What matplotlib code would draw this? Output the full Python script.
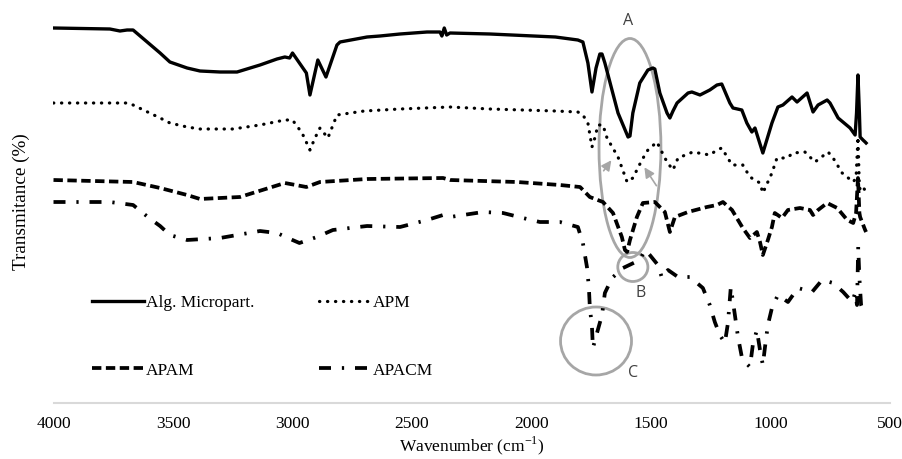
import matplotlib
matplotlib.use("Agg")
import matplotlib.pyplot as plt
from matplotlib.patches import Ellipse

# FTIR spectra, transmittance in arbitrary units (curves are stacked)
alg_wn = [4000, 3764, 3722, 3692, 3667, 3554, 3513, 3441, 3387, 3303, 3232, 3136, 3065,
          3032, 3012, 3000, 2942, 2927, 2894, 2860, 2814, 2801, 2688, 2634, 2550, 2437,
          2383, 2375, 2365, 2355, 2341, 2174, 1900, 1806, 1785, 1764, 1747, 1730, 1714,
          1705, 1693, 1660, 1638, 1596, 1588, 1576, 1547, 1513, 1492, 1484, 1463, 1433,
          1421, 1408, 1391, 1345, 1329, 1295, 1254, 1224, 1204, 1170, 1157, 1120, 1099,
          1078, 1065, 1032, 994, 969, 948, 910, 889, 847, 822, 801, 763, 751, 717, 667,
          646, 640, 634, 628, 625, 613, 604, 600]
alg_t = [375, 374, 372, 373, 373, 350, 341, 335, 332, 331, 331, 338, 344,
         346, 345, 350, 330, 308, 343, 326, 358, 361, 366, 367, 369, 371,
         371, 367, 375, 368, 370, 369, 366, 363, 361, 340, 311, 335, 349,
         349, 340, 310, 290, 266, 267, 290, 320, 333, 335, 334, 310, 290,
         285, 292, 300, 310, 311, 308, 313, 318, 319, 300, 295, 293, 280,
         271, 275, 250, 280, 296, 298, 306, 301, 310, 291, 298, 303, 300, 285, 275,
         268, 290, 328, 290, 266, 263, 261, 260]

apm_wn = [4000, 3692, 3667, 3554, 3513, 3441, 3387, 3249, 3136, 3032, 3000, 2960, 2927,
          2906, 2885, 2852, 2814, 2700, 2550, 2341, 2174, 1900, 1806, 1785, 1764, 1747,
          1735, 1722, 1701, 1684, 1638, 1600, 1576, 1538, 1513, 1475, 1463, 1433, 1408,
          1387, 1325, 1254, 1224, 1204, 1161, 1116, 1086, 1044, 1032, 994, 973, 931, 906,
          856, 814, 759, 738, 700, 654, 642, 634, 628, 620, 613, 600]
apm_t = [300, 300, 298, 285, 280, 276, 274, 274, 278, 283, 283, 270, 253,
         265, 275, 265, 288, 292, 294, 296, 294, 292, 291, 288, 280, 256,
         265, 278, 278, 265, 246, 221, 225, 243, 253, 261, 255, 241, 233,
         245, 251, 248, 253, 255, 238, 238, 226, 220, 210, 230, 245, 245, 250,
         251, 241, 251, 245, 230, 221, 225, 266, 215, 213, 216, 211]

apam_wn = [4000, 3667, 3554, 3441, 3387, 3220, 3032, 2942, 2885, 2688, 2370, 2341, 2061,
           1881, 1797, 1756, 1701, 1659, 1622, 1609, 1600, 1588, 1559, 1534, 1484, 1442,
           1421, 1400, 1345, 1266, 1224, 1199, 1161, 1136, 1116, 1086, 1057, 1044, 1032,
           1011, 994, 982, 952, 927, 877, 835, 822, 801, 763, 721, 679, 654, 642, 634,
           628, 625, 604, 600]
apam_t = [223, 221, 215, 208, 204, 206, 220, 216, 221, 224, 225, 223, 221,
          218, 216, 206, 201, 190, 166, 153, 151, 163, 186, 200, 201, 191,
          171, 186, 191, 196, 198, 201, 193, 183, 175, 165, 171, 161, 148,
          163, 176, 190, 185, 193, 195, 193, 188, 193, 200, 195, 183, 180, 190, 225,
          190, 186, 173, 171]

apacm_wn = [4000, 3764, 3667, 3600, 3554, 3513, 3441, 3303, 3136, 3065, 3000, 2971, 2898,
            2831, 2688, 2550, 2437, 2370, 2341, 2203, 2119, 2036, 1965, 1881, 1806, 1785,
            1768, 1760, 1756, 1747, 1743, 1726, 1705, 1693, 1663, 1617, 1547, 1525, 1505,
            1471, 1454, 1429, 1387, 1337, 1283, 1254, 1233, 1212, 1191, 1178, 1166, 1149,
            1136, 1120, 1103, 1086, 1074, 1057, 1044, 1032, 1023, 1011, 994, 969, 927, 885,
            826, 784, 738, 696, 658, 646, 638, 633, 628, 621, 613, 600]
apacm_t = [201, 201, 198, 185, 177, 168, 163, 165, 172, 170, 163, 160, 166,
           173, 177, 176, 183, 188, 186, 191, 190, 185, 181, 181, 176, 160,
           136, 116, 96, 76, 55, 70, 88, 110, 125, 135, 143, 153, 148,
           138, 125, 133, 126, 126, 115, 98, 81, 68, 60, 80, 116, 88,
           66, 46, 40, 36, 58, 73, 53, 38, 56, 78, 95, 108, 101, 115,
           111, 123, 120, 111, 101, 110, 98, 156, 125, 98, 93, 93]

labels = ["Alg. Micropart.", "APM", "APAM", "APACM"]

serif = "Liberation Serif"
plt.rcParams["font.family"] = serif

fig = plt.figure(figsize=(9.03, 4.59), dpi=100)
ax = fig.add_axes([53.5 / 903, 56 / 459, (890 - 53.5) / 903, 403 / 459])

l1, = ax.plot(alg_wn, alg_t, color="black", lw=2.4, solid_joinstyle="round")
l2, = ax.plot(apm_wn, apm_t, color="black", lw=2.3, linestyle=(0, (0.1, 2.4)),
              dash_capstyle="round")
l3, = ax.plot(apam_wn, apam_t, color="black", lw=2.7, linestyle=(0, (2.5, 1.2)))
l4, = ax.plot(apacm_wn, apacm_t, color="black", lw=2.7,
              linestyle=(0, (3.2, 2.9, 0.6, 2.9)))

ax.set_xlim(4000, 500)
ax.set_ylim(0, 403)
ax.set_xticks([4000, 3500, 3000, 2500, 2000, 1500, 1000, 500])
ax.set_yticks([])
ax.tick_params(axis="x", length=0, pad=9, labelsize=12.5)
for s in ["top", "right", "left"]:
    ax.spines[s].set_visible(False)
ax.spines["bottom"].set_color("#d9d9d9")
ax.spines["bottom"].set_linewidth(1.5)
ax.set_xlabel("Wavenumber (cm$^{\\mathregular{-1}}$)", fontsize=12.5, labelpad=2)
fig.text(21 / 903, 1 - 202 / 459, "Transmitance (%)", rotation=90, fontsize=13.8,
         ha="center", va="center")

# annotations (gray ellipses, circles, arrows, letters)
gray = "#a6a6a6"
ax.add_patch(Ellipse((1588, 255), 259, 219, fill=False, ec=gray, lw=2))
ax.add_patch(Ellipse((1576, 136), 126, 29, fill=False, ec=gray, lw=2))
ax.add_patch(Ellipse((1730, 62), 297, 68, fill=False, ec=gray, lw=2))
ax.annotate("", xy=(1659, 245), xytext=(1705, 230),
            arrowprops=dict(arrowstyle="-|>", color=gray, lw=1.2, mutation_scale=15))
ax.annotate("", xy=(1534, 238), xytext=(1471, 215),
            arrowprops=dict(arrowstyle="-|>", color=gray, lw=1.2, mutation_scale=15))
for txt, x, y in [("A", 1596, 382), ("B", 1542, 110), ("C", 1576, 30)]:
    ax.text(x, y, txt, family="Open Sans", fontsize=11.5, color="#404040",
            ha="center", va="center")

# legend filled column by column, so order gives rows: Alg/APM, APAM/APACM
fig.legend([l1, l3, l2, l4], [labels[0], labels[2], labels[1], labels[3]],
           ncol=2, loc="upper left", bbox_to_anchor=(92 / 903, 1 - 295 / 459),
           frameon=False, fontsize=12.5, handlelength=3.0, handletextpad=0.12,
           columnspacing=3.7, labelspacing=2.95, borderpad=0, borderaxespad=0)

fig.savefig("out.png", dpi=100)
